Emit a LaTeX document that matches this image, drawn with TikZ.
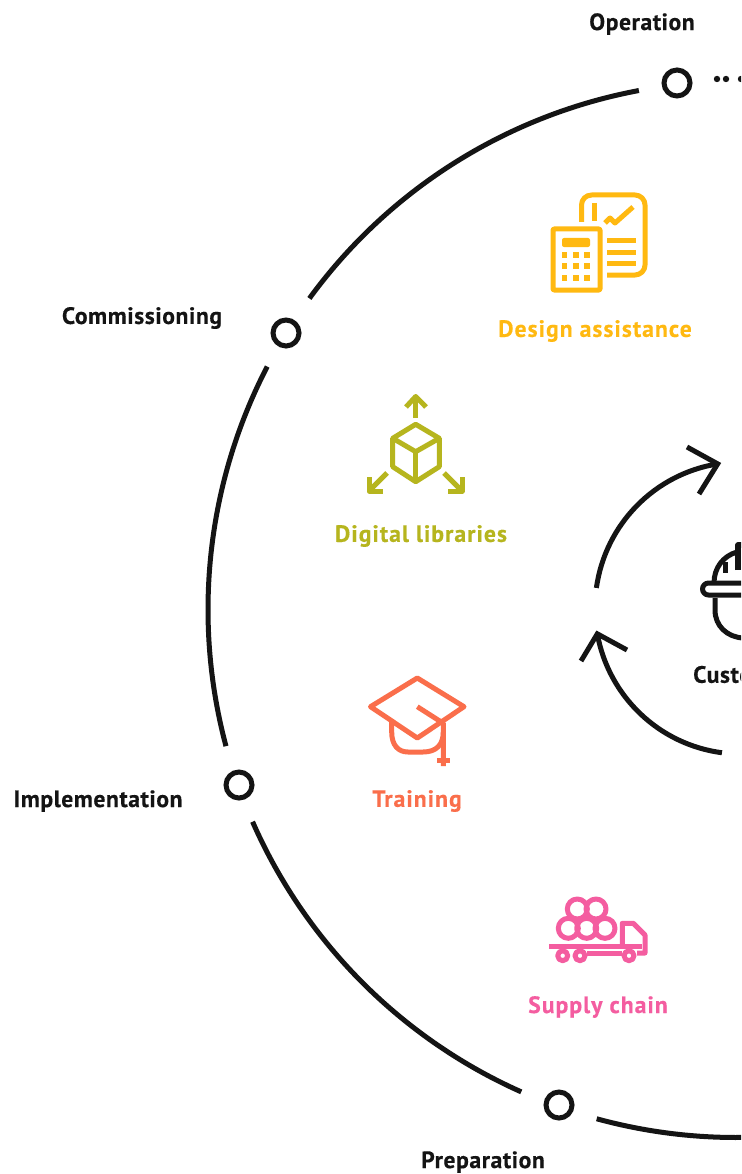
\documentclass[tikz,border=0pt]{standalone}
\usepackage{fontspec}
\setmainfont{PT Sans}
\newfontfamily\blackfont[LetterSpace=2.5,FakeBold=0.4]{PT Sans}
\newfontfamily\colorfont[LetterSpace=4.5,FakeBold=0.4]{PT Sans}
\usetikzlibrary{calc}
\definecolor{ink}{HTML}{141414}
\definecolor{amberc}{HTML}{FFB911}
\definecolor{olivec}{HTML}{B6B51E}
\definecolor{coralc}{HTML}{FA6E4B}
\definecolor{pinkc}{HTML}{F45DA0}
\tikzset{
  ring/.style={draw=ink,line width=5pt,circle,minimum size=26pt,inner sep=0pt,fill=white},
  bigarc/.style={draw=ink,line width=5pt},
  smallarc/.style={draw=ink,line width=5pt},
  lab/.style={font=\blackfont\bfseries\fontsize{23.6}{26}\selectfont,text=ink,inner sep=0pt,anchor=center},
  clab/.style={font=\colorfont\bfseries\fontsize{23.6}{26}\selectfont,inner sep=0pt,anchor=center},
  ico/.style={line width=5pt,line join=round},
}
\begin{document}
\begin{tikzpicture}[x=1pt,y=1pt,yscale=-1]
\useasboundingbox (0,0) rectangle (741,1174);
\clip (0,0) rectangle (741,1174);
\fill[white] (0,0) rectangle (741,1174);
\coordinate (big) at (736,609.5);
\coordinate (inner) at (741,608);
% outer arcs
\coordinate (a1) at ($(big)+(259.4:528)$);
\coordinate (a2) at ($(big)+(207.4:528)$);
\coordinate (a3) at ($(big)+(156.3:528)$);
\coordinate (a4) at ($(big)+(105.3:528)$);
\draw[bigarc] (a1) arc[start angle=259.4,end angle=216.1,radius=528];
\draw[bigarc] (a2) arc[start angle=207.4,end angle=165,radius=528];
\draw[bigarc] (a3) arc[start angle=156.3,end angle=114,radius=528];
\draw[bigarc] (a4) arc[start angle=105.3,end angle=85,radius=528];
% rings
\node[ring] (op) at (677,83) {};
\node[ring] (com) at (286,333) {};
\node[ring] (imp) at (239,785) {};
\node[ring] (pre) at (559,1105) {};
\node[circle,fill=ink,minimum size=6.4pt,inner sep=0pt] (d1) at (717,79) {};
\node[circle,fill=ink,minimum size=6.4pt,inner sep=0pt] (d2) at (726,79) {};
\node[circle,fill=ink,minimum size=6.4pt,inner sep=0pt] (d3) at (741,79) {};
% labels
\node[lab] (lop) at (642,24) {Operation};
\node[lab] (lcom) at (142,318) {Commissioning};
\node[lab] (limp) at (98,801) {Implementation};
\node[lab] (lpre) at (483,1162) {Preparation};
\node[clab,text=amberc] (ldes) at (595,331) {Design assistance};
\node[clab,text=olivec] (ldig) at (421,536) {Digital libraries};
\node[clab,text=coralc] (ltra) at (417,801) {Training};
\node[clab,text=pinkc] (lsup) at (598,1007) {Supply chain};
\node[lab,anchor=west] (lcus) at (693,674.5) {Custo};
% inner arrows
\coordinate (u1) at ($(inner)+(187.9:146)$);
\coordinate (l1) at ($(inner)+(97.5:146)$);
\coordinate (ut) at ($(inner)+(260.8:146)$);
\coordinate (lt) at ($(inner)+(169.8:146)$);
\draw[smallarc] (u1) arc[start angle=187.9,end angle=260.8,radius=146];
\draw[smallarc] (l1) arc[start angle=97.5,end angle=169.8,radius=146];
\draw[smallarc,line join=miter] (687,447) -- (ut) -- (699,494);
\draw[smallarc,line join=miter] (627,650) -- (lt) -- (581,661);
% calculator + document
\begin{scope}[draw=amberc,ico]
\draw[rounded corners=1pt] (553,229) rectangle (600,290);
\fill[amberc,rounded corners=2pt] (562,238) rectangle (590,247);
\foreach \x in {564.5,576,587}\foreach \y in {255,266,278}
  \fill[amberc] (\x-2.8,\y-2.8) rectangle (\x+2.8,\y+2.8);
\draw[rounded corners=10pt] (581.5,222) -- (581.5,195) -- (645,195) -- (645,275) -- (607,275);
\draw (594,203) -- (594,221);
\draw (605,223) -- (610,218) -- (615,223) -- (633,207);
\draw (607,241) -- (636,241);
\draw (607,252) -- (636,252);
\draw (607,263) -- (636,263);
\end{scope}
% cube
\begin{scope}[draw=olivec,ico]
\draw (415.7,424.3) -- (439.3,438.3) -- (439.3,466.7) -- (415.7,481.7) -- (392.7,466.7) -- (392.7,438.3) -- cycle;
\draw (392.7,438.3) -- (415.7,451.7) -- (439.3,438.3);
\draw (415.7,451.7) -- (415.7,481.7);
\draw (415.7,418) -- (415.7,397);
\draw (406,407) -- (415.7,396.5) -- (426,407);
\draw (387,473) -- (370,490);
\draw (369,477) -- (369,491) -- (383,491);
\draw (444,473) -- (461,490);
\draw (462,477) -- (462,491) -- (448,491);
\end{scope}
% graduation cap
\begin{scope}[draw=coralc,ico]
\draw (417.3,678) -- (464,706.7) -- (417.3,738) -- (370.5,706.7) -- cycle;
\draw (417.3,706.7) -- (443.3,723.3) -- (443.3,766);
\draw (437.3,760) -- (450,760);
\draw (391.7,721.7) -- (391.7,732) .. controls (391.7,745) and (398,752) .. (408,752) -- (423,752) .. controls (436,752) and (443.3,745) .. (443.3,732);
\end{scope}
% truck
\begin{scope}[draw=pinkc,ico]
\foreach \p in {(577.3,909),(596,909),(568.3,928.3),(586.7,928.3),(605,928.3)}
  \draw \p circle[radius=10];
\draw (549,946.7) -- (641.7,946.7);
\draw (622.3,946.7) -- (622.3,923.3) -- (633.3,923.3) -- (645,935) -- (645,953) -- (637,953);
\draw (587,953) -- (622,953);
\foreach \p in {(562.7,955.7),(580,955.7),(629,955.7)}
  \draw[fill=white] \p circle[radius=5];
\end{scope}
% hard hat
\begin{scope}[draw=ink,line width=5pt,line join=round]
\draw (745,583) -- (708.5,583) arc[start angle=270,end angle=90,radius=6] -- (745,595);
\draw (714,583) .. controls (714,568) and (723,556) .. (737,552);
\draw (725,562) -- (725,573);
\draw[line width=5.5pt] (738,570) -- (738,545) -- (745,545);
\draw (715,598) -- (715,610) .. controls (715,626) and (727,637) .. (743,638);
\end{scope}
\end{tikzpicture}
\end{document}
